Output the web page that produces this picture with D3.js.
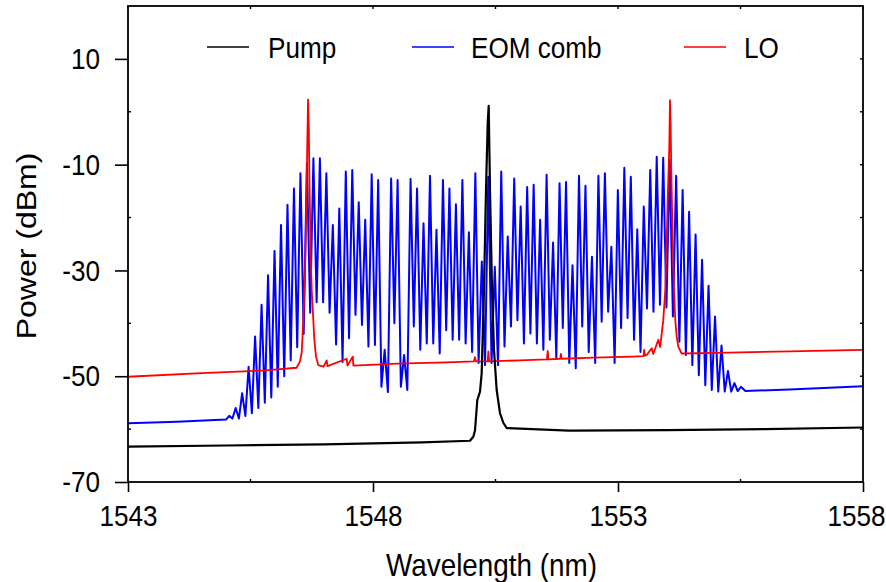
<!DOCTYPE html>
<html>
<head>
<meta charset="utf-8">
<script src="https://cdn.jsdelivr.net/npm/d3@7"></script>
<style>
  body { margin: 0; background: #fff; }
  text { font-family: Arial, "Liberation Sans", sans-serif; fill: #000; }
</style>
</head>
<body>
<div id="chart"></div>
<script>
// ---- data ----
let xTicks = [1543, 1548, 1553, 1558]
let xMinor = [1545.5, 1550.5, 1555.5]
let yTicks = [-70, -50, -30, -10, 10]
let yMinor = [-60, -40, -20, 0]

let seriesNames = ["Pump", "EOM comb", "LO"]
let seriesColors = ["#000000", "#0000ff", "#ff0000"]

// pump trace [nm, dBm]
let pumpTrace = [
  [1543, -63.3], [1545, -63.1], [1547, -62.9], [1549, -62.5], [1549.98, -62.2],
  [1550.05, -61.4], [1550.082, -60.2], [1550.129, -54.5], [1550.184, -52.9],
  [1550.218, -49.4], [1550.265, -33.7], [1550.306, -14.8], [1550.341, -2.1],
  [1550.361, 1.1], [1550.388, -14.8], [1550.429, -33.7], [1550.469, -45],
  [1550.524, -52.6], [1550.592, -57], [1550.659, -58.8], [1550.729, -59.8],
  [1552, -60.3], [1554, -60.2], [1556, -60], [1558, -59.7]
]

// LO trace [nm, dBm]
let loTrace = [
  [1543.0, -50.1], [1544.5, -49.4], [1545.8, -48.9], [1546.44, -48.4], [1546.51, -47.2],
  [1546.545, -45.5], [1546.578, -39.4], [1546.612, -30.5], [1546.639, -17.9],
  [1546.659, -6], [1546.675, 2.3], [1546.69, -3], [1546.70, -11], [1546.729, -27.4],
  [1546.749, -33.7], [1546.782, -39.4], [1546.802, -43], [1546.837, -46.3],
  [1546.884, -47.9], [1546.99, -48.2], [1547.055, -47.0], [1547.07, -48.1],
  [1547.463, -46.7], [1547.48, -48], [1547.586, -46.3], [1547.60, -48],
  [1548.5, -47.6], [1549.5, -47.4], [1550.06, -47.2], [1550.08, -46.4], [1550.10, -47.2],
  [1550.34, -47.2], [1550.355, -45.3], [1550.37, -47.2], [1551.0, -47.0],
  [1551.55, -46.8], [1551.565, -45.2], [1551.58, -46.8], [1551.82, -46.7],
  [1551.835, -45.8], [1551.85, -46.7], [1552.5, -46.5], [1553.3, -46.3],
  [1553.52, -46.2], [1553.535, -45.0], [1553.55, -46.1], [1553.586, -46],
  [1553.688, -44.7], [1553.72, -45.8], [1553.822, -43.1], [1553.86, -44.5],
  [1553.924, -39.4], [1553.965, -33.7], [1553.994, -24.2], [1554.020, -14.8],
  [1554.047, -6.6], [1554.061, 2.2], [1554.075, -3], [1554.088, -11.6],
  [1554.116, -24.2], [1554.143, -33.7], [1554.169, -39.4], [1554.198, -42.5],
  [1554.231, -44.4], [1554.30, -45.7], [1555, -45.6], [1556.5, -45.3], [1558, -45.0]
]

// EOM comb: evenly spaced lines around the pump
let combCenter = 1550.353   // nm, line under the pump
let combSpacing = 0.1322    // nm between lines
let combCenterIndex = 40    // index of the center line in combPeaks
let combPeaks = [
  -57.5, -56, -53.2, -48.2, -42.5, -36.5, -30.9, -26.3, -21.4, -17.6,
  -14.5, -11.6, -9.7, -8.8, -8.8, -11.6, -21.4, -18.3, -11.3, -11.0,
  -17.1, -20.4, -11.8, -12.9, -45, -12.6, -12.9, -46, -12.7, -14.5,
  -21.1, -12.1, -22.3, -12.9, -14.5, -17.5, -12.9, -22.8, -11.6, -28.3,
  -12.3, -29.3, -11.3, -23.6, -12.6, -17.9, -14.2, -13.8, -20.4, -11.9,
  -24.7, -13.5, -13.3, -29, -12.1, -14, -27.4, -12.1, -11.6, -25.5,
  -14.8, -10.6, -12.3, -22.2, -17.9, -11.0, -8.5, -8.7, -9.1, -12.1,
  -14.8, -18.9, -23.2, -28, -32.9, -38.7, -44.2, -49, -51.3, -52
]
// minima between neighbouring lines
let combTroughs = [
  -58, -58, -57.5, -57, -56, -55, -54, -52, -50, -47,
  -44.5, -42, -38, -36, -36, -38, -44, -47.3, -42.8, -38.4,
  -40.3, -44.4, -44.1, -52, -53, -40, -52, -52.6, -40.6, -45,
  -43.8, -43.8, -45.7, -41.3, -43.1, -43.1, -43.8, -45.4, -47.5, -47.9,
  -47.5, -47.9, -44.4, -40.6, -39.4, -43.8, -41.9, -43.8, -45, -43.1,
  -46.6, -40.9, -47.5, -48.5, -40.6, -45.4, -47.5, -39.7, -37.8, -47.5,
  -40.9, -39, -43.1, -45.4, -37.2, -37.8, -36.5, -37, -38.7, -43.5,
  -46, -47.9, -49.8, -51.7, -52.6, -52.9, -52.9, -52.9, -52.8
]
let combFloorLeft = [[1543, -58.9], [1544, -58.6], [1545.0, -58.2]]
let combFloorRight = [[1555.6, -52.8], [1556.5, -52.5], [1558, -51.9]]

// ---- layout ----
let width = 886,
    height = 582,
    margin = { left: 128, right: 23, top: 6, bottom: 100 }

// the reference text is narrow and tall: squeeze glyphs horizontally
let fontSize = 30,
    titleSize = 32,
    squeeze = 0.87

let x = d3.scaleLinear()
  .domain([1543, 1558])
  .range([margin.left, width - margin.right])

let y = d3.scaleLinear()
  .domain([-70, 20])
  .range([height - margin.bottom, margin.top])

let svg = d3.select("#chart").append("svg")
  .attr("width", width)
  .attr("height", height)

svg.append("defs").append("clipPath")
  .attr("id", "plot-clip")
  .append("rect")
  .attr("x", x.range()[0])
  .attr("y", y.range()[1])
  .attr("width", x.range()[1] - x.range()[0])
  .attr("height", y.range()[0] - y.range()[1])

// build comb path points: floor, zigzag of lines and troughs, floor
let combTrace = combFloorLeft.slice()
combPeaks.forEach(function(p, i) {
  let lam = combCenter + (i - combCenterIndex) * combSpacing
  combTrace.push([lam, p])
  if (i < combTroughs.length) {
    combTrace.push([lam + combSpacing / 2, combTroughs[i]])
  }
})
combFloorRight.forEach(d => combTrace.push(d))

let line = d3.line()
  .x(d => x(d[0]))
  .y(d => y(d[1]))

let traces = svg.append("g").attr("clip-path", "url(#plot-clip)")

traces.append("path")
  .datum(combTrace)
  .attr("d", line)
  .attr("fill", "none")
  .attr("stroke", seriesColors[1])
  .attr("stroke-width", 2)
  .attr("stroke-linejoin", "round")

traces.append("path")
  .datum(loTrace)
  .attr("d", line)
  .attr("fill", "none")
  .attr("stroke", seriesColors[2])
  .attr("stroke-width", 1.8)
  .attr("stroke-linejoin", "round")

traces.append("path")
  .datum(pumpTrace)
  .attr("d", line)
  .attr("fill", "none")
  .attr("stroke", seriesColors[0])
  .attr("stroke-width", 2.2)
  .attr("stroke-linejoin", "round")

// ---- axes ----
let xAxis = svg.append("g")
  .attr("transform", "translate(0," + y.range()[0] + ")")
  .call(d3.axisBottom(x).tickValues(xTicks).tickFormat(d3.format("d")).tickSize(10).tickPadding(13))
let yAxis = svg.append("g")
  .attr("transform", "translate(" + x.range()[0] + ",0)")
  .call(d3.axisLeft(y).tickValues(yTicks).tickFormat(d => d < 0 ? "-" + Math.abs(d) : d).tickSize(13).tickPadding(15))

;[xAxis, yAxis].forEach(function(g) {
  g.select(".domain").remove()
  g.selectAll("line").attr("stroke", "#000").attr("stroke-width", 1.6)
  g.selectAll("text").attr("font-size", fontSize).attr("font-family", "Arial, 'Liberation Sans', sans-serif")
})
// narrow glyphs, keeping each label's anchor point in place
xAxis.selectAll("text")
  .attr("transform", (d, i) => "translate(" + (i === xTicks.length - 1 ? -7 : 0) + ",0) scale(" + squeeze + ",1)")
yAxis.selectAll("text")
  .attr("x", null)
  .attr("transform", "translate(-28,0) scale(" + squeeze + ",1)")

// minor ticks (inward) and mirrored ticks on top/right
let tickG = svg.append("g").attr("stroke", "#000").attr("stroke-width", 1.4)
xMinor.forEach(function(v) {
  tickG.append("line").attr("x1", x(v)).attr("x2", x(v)).attr("y1", y.range()[0]).attr("y2", y.range()[0] - 3)
})
yMinor.forEach(function(v) {
  tickG.append("line").attr("x1", x.range()[0]).attr("x2", x.range()[0] + 3).attr("y1", y(v)).attr("y2", y(v))
})
xTicks.concat(xMinor).forEach(function(v) {
  tickG.append("line").attr("x1", x(v)).attr("x2", x(v)).attr("y1", y.range()[1]).attr("y2", y.range()[1] + 3)
})
yTicks.concat(yMinor).forEach(function(v) {
  tickG.append("line").attr("x1", x.range()[1]).attr("x2", x.range()[1] - 3).attr("y1", y(v)).attr("y2", y(v))
})

// frame
svg.append("rect")
  .attr("x", x.range()[0])
  .attr("y", y.range()[1])
  .attr("width", x.range()[1] - x.range()[0])
  .attr("height", y.range()[0] - y.range()[1])
  .attr("fill", "none")
  .attr("stroke", "#000")
  .attr("stroke-width", 1.8)

// axis titles
svg.append("text")
  .attr("transform", "translate(" + ((x.range()[0] + x.range()[1]) / 2 - 4) + ",576) scale(" + squeeze + ",1)")
  .attr("text-anchor", "middle")
  .attr("font-size", titleSize)
  .text("Wavelength (nm)")

svg.append("text")
  .attr("transform", "translate(36," + ((y.range()[0] + y.range()[1]) / 2 + 2) + ") rotate(-90) scale(1," + squeeze + ")")
  .attr("text-anchor", "middle")
  .attr("font-size", titleSize)
  .text("Power (dBm)")

// legend
let legendX = [207, 412, 684]
let legendTextX = [268, 471, 744]
let legend = svg.append("g")
seriesNames.forEach(function(name, i) {
  legend.append("line")
    .attr("x1", legendX[i]).attr("x2", legendX[i] + 42)
    .attr("y1", 47).attr("y2", 47)
    .attr("stroke", seriesColors[i])
    .attr("stroke-width", 1.6)
  legend.append("text")
    .attr("transform", "translate(" + legendTextX[i] + ",57.5) scale(" + squeeze + ",1)")
    .attr("font-size", fontSize)
    .text(name)
})
</script>
</body>
</html>
